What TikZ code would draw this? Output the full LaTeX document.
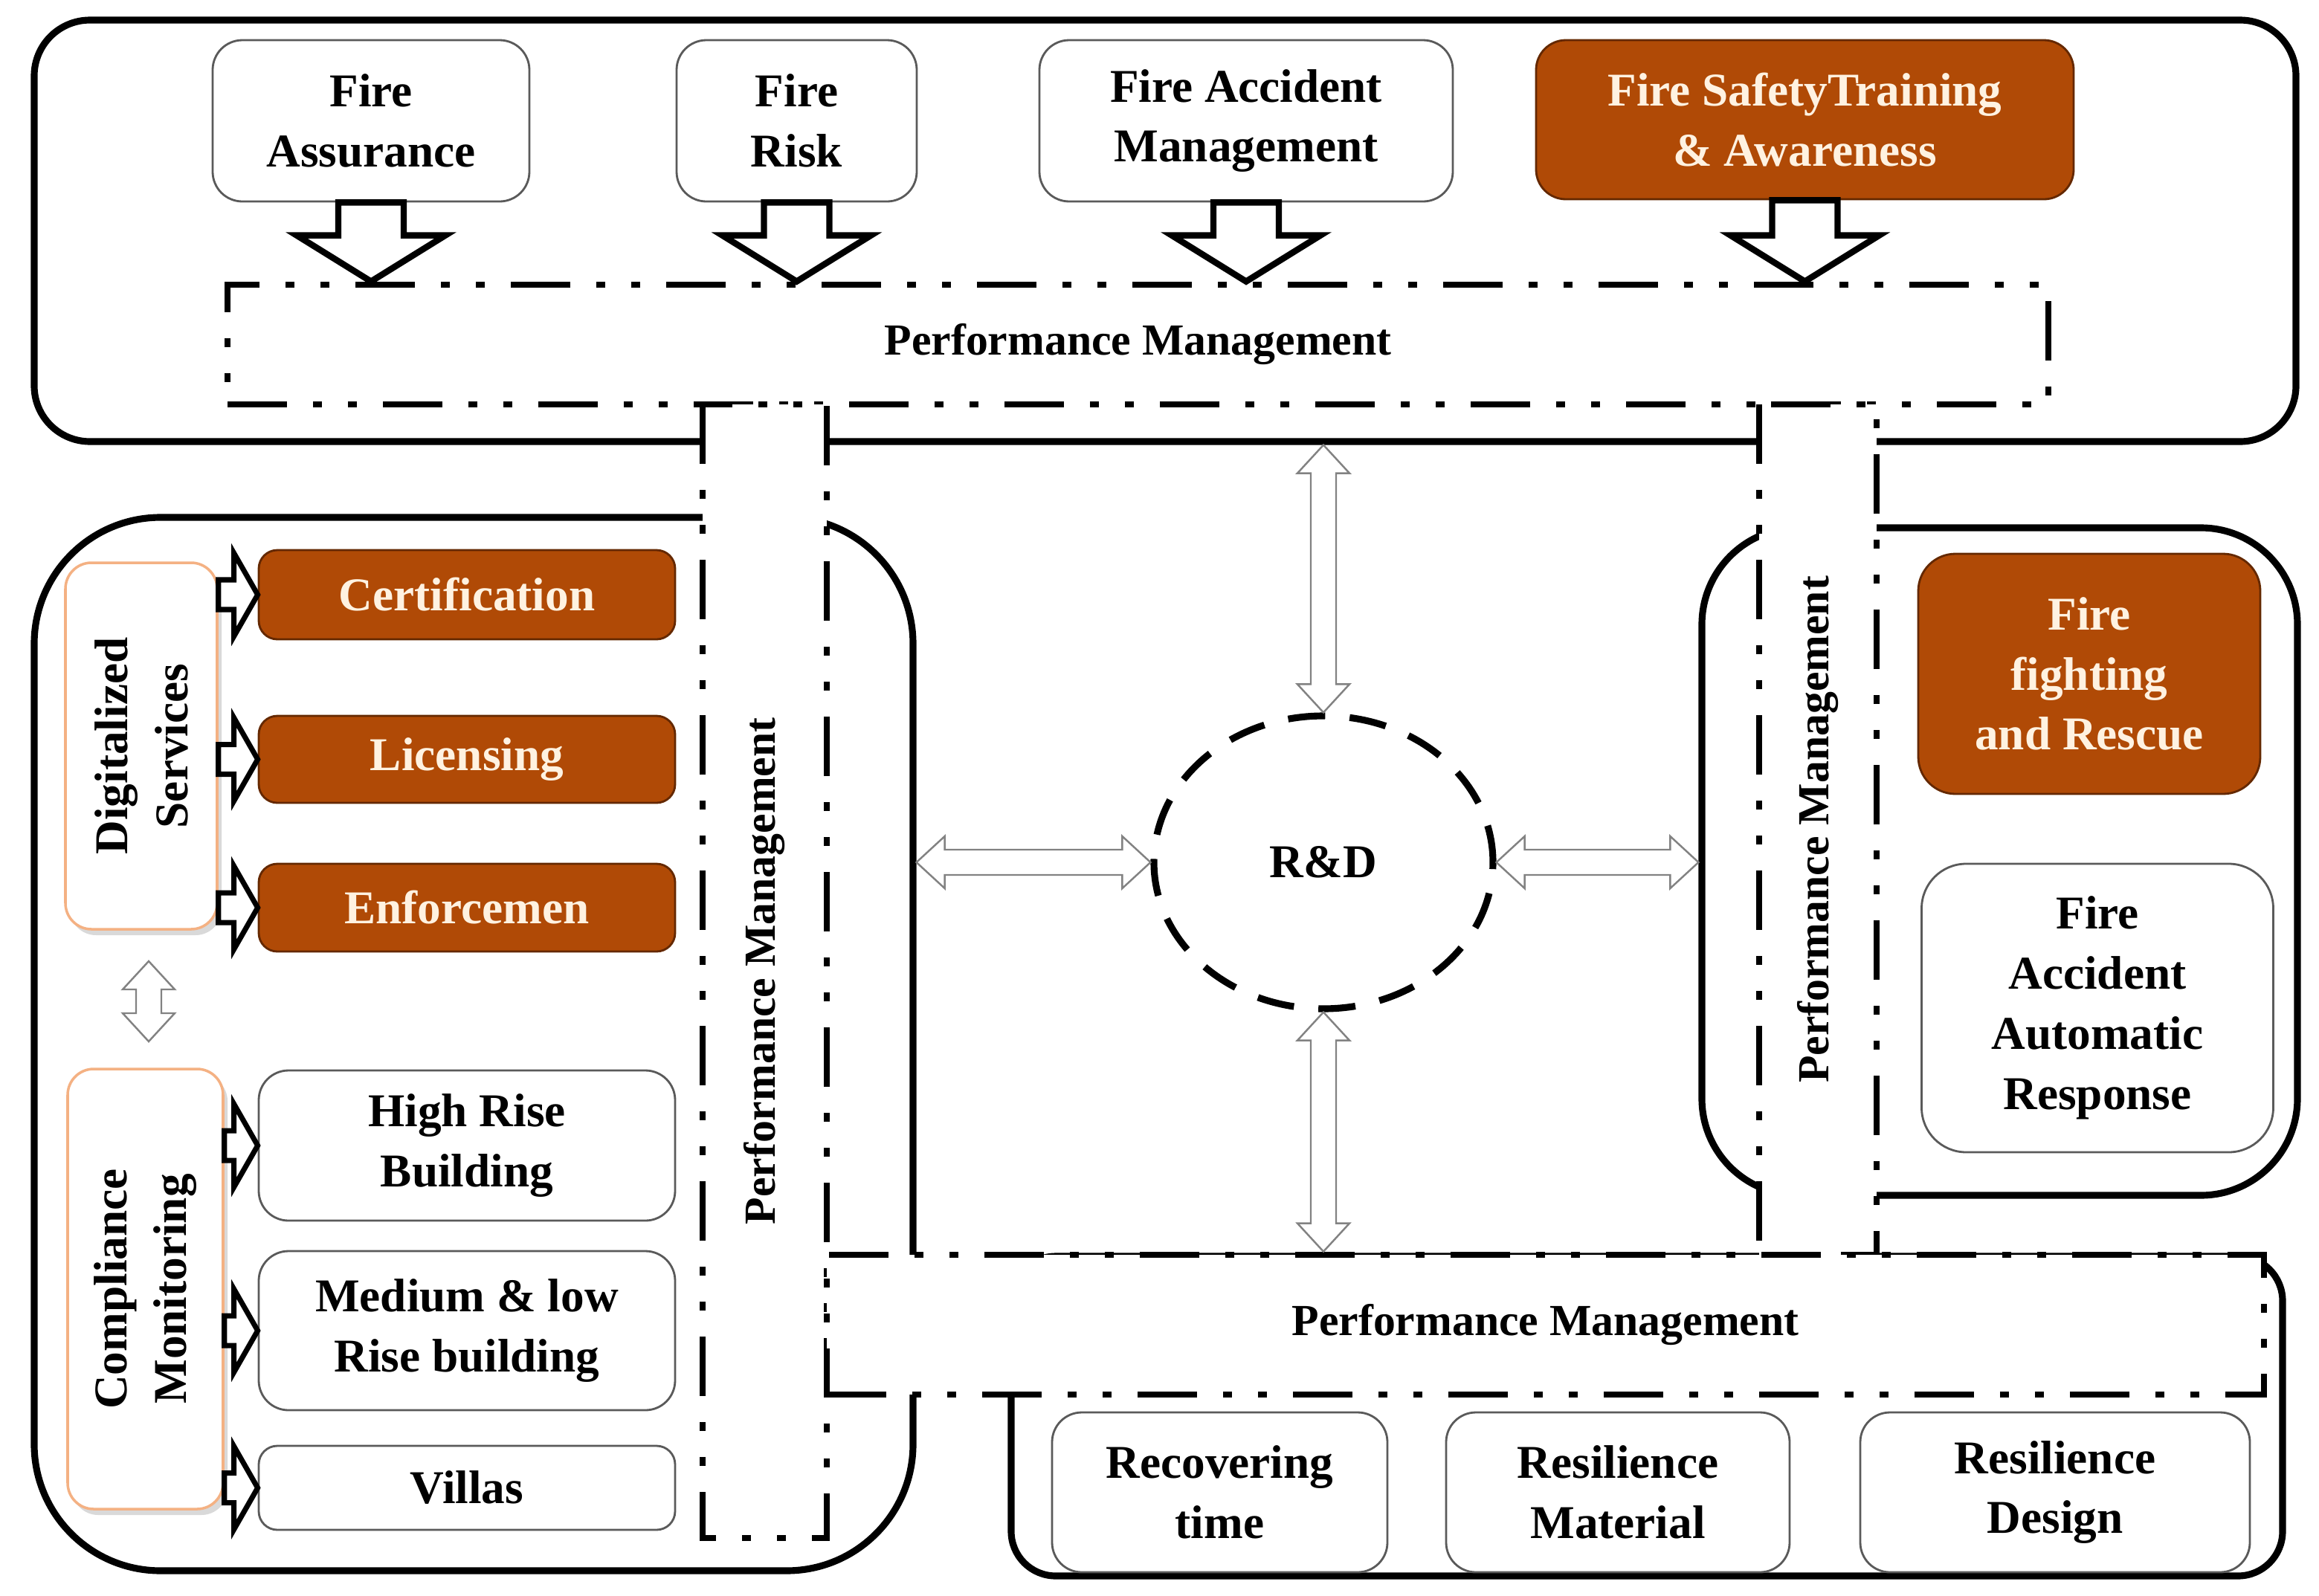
\documentclass[tikz,border=0pt]{standalone}
\usepackage{fontspec}
\setmainfont{Liberation Serif}
\usepackage{tikz}
\usetikzlibrary{shapes,positioning,shadows,calc}
\definecolor{dfbrown}{RGB}{176,74,6}
\definecolor{dfdarkbrown}{RGB}{100,40,0}
\definecolor{dfcream}{RGB}{255,242,225}
\definecolor{dforange}{RGB}{244,177,131}
\definecolor{dfgray}{RGB}{90,90,90}
\definecolor{dfarrowgray}{RGB}{130,130,130}
\tikzstyle{outerframe} = [rectangle, draw=black, line width=2.6pt]
\tikzstyle{pmbox} = [rectangle, draw=black, fill=white, line width=2.5pt, dash pattern=on 0.8cm off 0.35cm on 0.12cm off 0.35cm on 0.12cm off 0.35cm, font=\fontsize{17}{21}\selectfont\bfseries]
\tikzstyle{whitebox} = [rectangle, rounded corners=0.4cm, draw=dfgray, fill=white, line width=0.8pt, align=center, font=\fontsize{18}{23}\selectfont\bfseries]
\tikzstyle{brownbox} = [whitebox, draw=dfdarkbrown, fill=dfbrown, text=dfcream]
\tikzstyle{svcbox} = [rectangle, rounded corners=0.35cm, draw=dforange, fill=white, line width=1pt, align=center, rotate=90, drop shadow={shadow xshift=0.06cm, shadow yshift=-0.08cm, opacity=0.3}, font=\fontsize{18}{23}\selectfont\bfseries]
\tikzstyle{rdnode} = [ellipse, draw=black, line width=2.6pt, dash pattern=on 0.5cm off 0.33cm, minimum width=4.56cm, minimum height=3.94cm, font=\fontsize{18}{23}\selectfont\bfseries]
\tikzset{blockarrow/.style n args={3}{draw=black, fill=white, to path={
  -- ($(\tikztostart)!#3!90:(\tikztotarget)$)
  -- ($(\tikztotarget)!#1!(\tikztostart)!#3!-90:(\tikztostart)$)
  -- ($(\tikztotarget)!#1!(\tikztostart)!#2!-90:(\tikztostart)$)
  -- (\tikztotarget)
  -- ($(\tikztotarget)!#1!(\tikztostart)!#2!90:(\tikztostart)$)
  -- ($(\tikztotarget)!#1!(\tikztostart)!#3!90:(\tikztostart)$)
  -- ($(\tikztostart)!#3!-90:(\tikztotarget)$)
  -- cycle}}}
\tikzstyle{arrowdown} = [blockarrow={0.62cm}{1.0cm}{0.44cm}, line width=2.4pt]
\tikzstyle{arrowright} = [blockarrow={0.32cm}{0.56cm}{0.2cm}, line width=2pt]
\tikzstyle{dblarrow} = [draw=dfarrowgray, fill=white, line width=0.7pt, to path={
  -- ($(\tikztostart)!0.38cm!(\tikztotarget)!0.35cm!90:(\tikztotarget)$)
  -- ($(\tikztostart)!0.38cm!(\tikztotarget)!0.17cm!90:(\tikztotarget)$)
  -- ($(\tikztotarget)!0.38cm!(\tikztostart)!0.17cm!-90:(\tikztostart)$)
  -- ($(\tikztotarget)!0.38cm!(\tikztostart)!0.35cm!-90:(\tikztostart)$)
  -- (\tikztotarget)
  -- ($(\tikztotarget)!0.38cm!(\tikztostart)!0.35cm!90:(\tikztostart)$)
  -- ($(\tikztotarget)!0.38cm!(\tikztostart)!0.17cm!90:(\tikztostart)$)
  -- ($(\tikztostart)!0.38cm!(\tikztotarget)!0.17cm!-90:(\tikztotarget)$)
  -- ($(\tikztostart)!0.38cm!(\tikztotarget)!0.35cm!-90:(\tikztotarget)$)
  -- cycle}]

\begin{document}
\begin{tikzpicture}
\useasboundingbox (0,0) rectangle (31.19,-21.47);

% Frames
\node[outerframe, rounded corners=0.75cm, minimum width=30.42cm, minimum height=5.67cm] (topframe) at (15.67,-3.105) {};
\node[outerframe, rounded corners=1.7cm, minimum width=11.82cm, minimum height=14.17cm] (leftframe) at (6.37,-14.045) {};
\node[outerframe, rounded corners=1.3cm, minimum width=8.01cm, minimum height=8.98cm] (rightframe) at (26.895,-11.59) {};
\node[outerframe, rounded corners=0.6cm, minimum width=17.10cm, minimum height=4.30cm] (bottomframe) at (22.15,-19.05) {};

% Performance Management strips
\node[pmbox, minimum width=24.49cm, minimum height=1.61cm] (pmtop) at (15.305,-4.635) {Performance Management};
\node[pmbox, minimum width=15.25cm, minimum height=1.67cm, rotate=90] (pmleft) at (10.285,-13.065) {Performance Management};
\node[pmbox, minimum width=11.44cm, minimum height=1.58cm, rotate=90] (pmright) at (24.45,-11.16) {Performance Management};
\node[pmbox, minimum width=19.33cm, minimum height=1.88cm] (pmbottom) at (20.785,-17.82) {Performance Management};

% Top row
\node[whitebox, minimum width=4.26cm, minimum height=2.17cm] (fa) at (4.99,-1.625) {Fire\\Assurance};
\node[whitebox, minimum width=3.23cm, minimum height=2.17cm] (fr) at (10.715,-1.625) {Fire\\Risk};
\node[whitebox, minimum width=5.56cm, minimum height=2.17cm] (fam) at (16.76,-1.625) {Fire Accident\\Management};
\node[brownbox, minimum width=7.23cm, minimum height=2.14cm] (fst) at (24.275,-1.61) {Fire SafetyTraining\\\& Awareness};

% Left side
\node[svcbox, minimum width=4.93cm, minimum height=2.04cm] (ds) at (1.90,-10.035) {Digitalized\\Services};
\node[svcbox, minimum width=5.92cm, minimum height=2.09cm] (cm) at (1.955,-17.34) {Compliance\\Monitoring};
\node[brownbox, rounded corners=0.25cm, minimum width=5.60cm, minimum height=1.20cm] (cert) at (6.28,-8.0) {Certification};
\node[brownbox, rounded corners=0.25cm, minimum width=5.60cm, minimum height=1.17cm] (lic) at (6.28,-10.215) {Licensing};
\node[brownbox, rounded corners=0.25cm, minimum width=5.60cm, minimum height=1.18cm] (enf) at (6.28,-12.21) {Enforcemen};
\node[whitebox, minimum width=5.60cm, minimum height=2.02cm] (hrb) at (6.28,-15.41) {High Rise\\Building};
\node[whitebox, minimum width=5.60cm, minimum height=2.14cm] (mlr) at (6.28,-17.90) {Medium \& low\\Rise building};
\node[whitebox, rounded corners=0.25cm, minimum width=5.60cm, minimum height=1.13cm] (vil) at (6.28,-20.015) {Villas};

% Right side
\node[brownbox, rounded corners=0.5cm, minimum width=4.60cm, minimum height=3.23cm] (ffr) at (28.10,-9.065) {Fire\\fighting\\and Rescue};
\node[whitebox, rounded corners=0.6cm, minimum width=4.73cm, minimum height=3.88cm] (faar) at (28.21,-13.56) {Fire\\Accident\\Automatic\\Response};

% Bottom row
\node[whitebox, minimum width=4.51cm, minimum height=2.15cm] (rt) at (16.405,-20.075) {Recovering\\time};
\node[whitebox, minimum width=4.62cm, minimum height=2.15cm] (rm) at (21.76,-20.075) {Resilience\\Material};
\node[whitebox, minimum width=5.24cm, minimum height=2.15cm] (rdz) at (27.64,-20.075) {Resilience\\Design};

% R&D
\node[rdnode] (rd) at (17.80,-11.60) {R\&D};

% Arrows into the top strip
\coordinate (fatip) at (fa.south |- pmtop.north);
\coordinate (frtip) at (fr.south |- pmtop.north);
\coordinate (famtip) at (fam.south |- pmtop.north);
\coordinate (fsttip) at (fst.south |- pmtop.north);
\draw[arrowdown] (fa.south) to (fatip);
\draw[arrowdown] (fr.south) to (frtip);
\draw[arrowdown] (fam.south) to (famtip);
\draw[arrowdown] (fst.south) to (fsttip);

% Arrows to the services
\draw[arrowright] (ds.south |- cert.west) to (cert.west);
\draw[arrowright] (ds.south |- lic.west) to (lic.west);
\draw[arrowright] (ds.south |- enf.west) to (enf.west);
\draw[arrowright] (cm.south |- hrb.west) to (hrb.west);
\draw[arrowright] (cm.south |- mlr.west) to (mlr.west);
\draw[arrowright] (cm.south |- vil.west) to (vil.west);

% Two-way arrows
\coordinate (rdtop) at (rd.north |- topframe.south);
\coordinate (rdbot) at (rd.south |- pmbottom.north);
\coordinate (rdleft) at (leftframe.east |- rd.west);
\coordinate (rdright) at (rightframe.west |- rd.east);
\coordinate (dsgap) at (2.0,-12.93);
\coordinate (cmgap) at (2.0,-14.01);
\draw[dblarrow] (rdtop) to (rd.north);
\draw[dblarrow] (rd.south) to (rdbot);
\draw[dblarrow] (rdleft) to (rd.west);
\draw[dblarrow] (rd.east) to (rdright);
\draw[dblarrow] (dsgap) to (cmgap);
\end{tikzpicture}
\end{document}
